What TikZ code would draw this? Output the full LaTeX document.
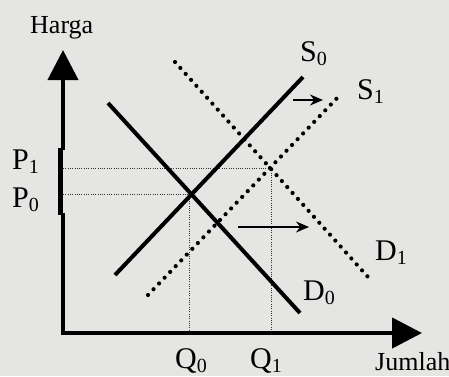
\documentclass[tikz,border=0pt]{standalone}
\usepackage{fontspec}
\setmainfont{Liberation Serif}
\usetikzlibrary{arrows.meta}
\newcommand\lowsub[1]{\raisebox{-4pt}{\fontsize{20}{20}\selectfont #1}}
\begin{document}
\begin{tikzpicture}[x=1pt,y=-1pt,
  axisline/.style={line width=4.5pt,black},
  curve/.style={line width=4pt,black},
  dotcurve/.style={line width=4.2pt,black,line cap=round,dash pattern=on 0pt off 8pt},
  guide/.style={line width=1pt,black!80,dash pattern=on 1pt off 1.3pt},
  shiftarrow/.style={line width=1.6pt,black,-{Stealth[length=13pt,width=11pt]}},
  lbl/.style={anchor=base west,inner sep=0pt,font=\fontsize{30}{32}\selectfont},
  axlbl/.style={anchor=base west,inner sep=0pt,font=\fontsize{26}{30}\selectfont}]
\useasboundingbox (0,0) rectangle (449,376);
\fill[fill={rgb,255:red,229;green,229;blue,227}] (0,0) rectangle (449,376);
% coordinates
\coordinate (O) at (63,333);
\coordinate (ylow) at (63,213);
\coordinate (ymidA) at (60,215);
\coordinate (ymidB) at (60,148);
\coordinate (yup) at (63,150);
\coordinate (ytip) at (63,50);
\coordinate (xtip) at (422,333);
\coordinate (D0a) at (108,103);
\coordinate (D0b) at (300,313);
\coordinate (S0a) at (115,275);
\coordinate (S0b) at (303,77);
\coordinate (D1a) at (175,62);
\coordinate (D1b) at (368,277);
\coordinate (S1a) at (148,295);
\coordinate (S1b) at (340,95);
\coordinate (E0) at (190,194);
\coordinate (E1) at (271,168);
\coordinate (P0y) at (63,194);
\coordinate (P1y) at (63,168);
\coordinate (Q0x) at (189,333);
\coordinate (Q1x) at (271,333);
\coordinate (E0v) at (189,194);
\coordinate (sAa) at (293,100);
\coordinate (sAb) at (323,100);
\coordinate (sBa) at (238,227);
\coordinate (sBb) at (309,227);
% guides
\draw[guide] (P1y) -- (E1);
\draw[guide] (P0y) -- (E0);
\draw[guide] (E0v) -- (Q0x);
\draw[guide] (E1) -- (Q1x);
% axes
\draw[axisline,-{Triangle[length=30pt,width=30pt]}] (ylow) -- (O) -- (xtip);
\draw[line width=5pt] (ymidA) -- (ymidB);
\draw[line width=4pt,-{Triangle[length=30pt,width=30pt]}] (yup) -- (ytip);
% curves
\draw[curve] (D0a) -- (D0b);
\draw[curve] (S0a) -- (S0b);
\draw[dotcurve] (D1a) -- (D1b);
\draw[dotcurve] (S1a) -- (S1b);
% shift arrows
\draw[shiftarrow] (sAa) -- (sAb);
\draw[shiftarrow] (sBa) -- (sBb);
% labels
\node[axlbl] (harga) at (30,33) {Harga};
\node[axlbl] (jumlah) at (375,370) {Jumlah};
\node[lbl] (p1) at (12,169) {P\lowsub{1}};
\node[lbl] (p0) at (12,207) {P\lowsub{0}};
\node[lbl] (q0) at (175,368) {Q\lowsub{0}};
\node[lbl] (q1) at (250,368) {Q\lowsub{1}};
\node[lbl] (s0) at (300,61) {S\lowsub{0}};
\node[lbl] (s1) at (357,99) {S\lowsub{1}};
\node[lbl] (d1) at (375,260) {D\lowsub{1}};
\node[lbl] (d0) at (303,300) {D\lowsub{0}};
\end{tikzpicture}
\end{document}
